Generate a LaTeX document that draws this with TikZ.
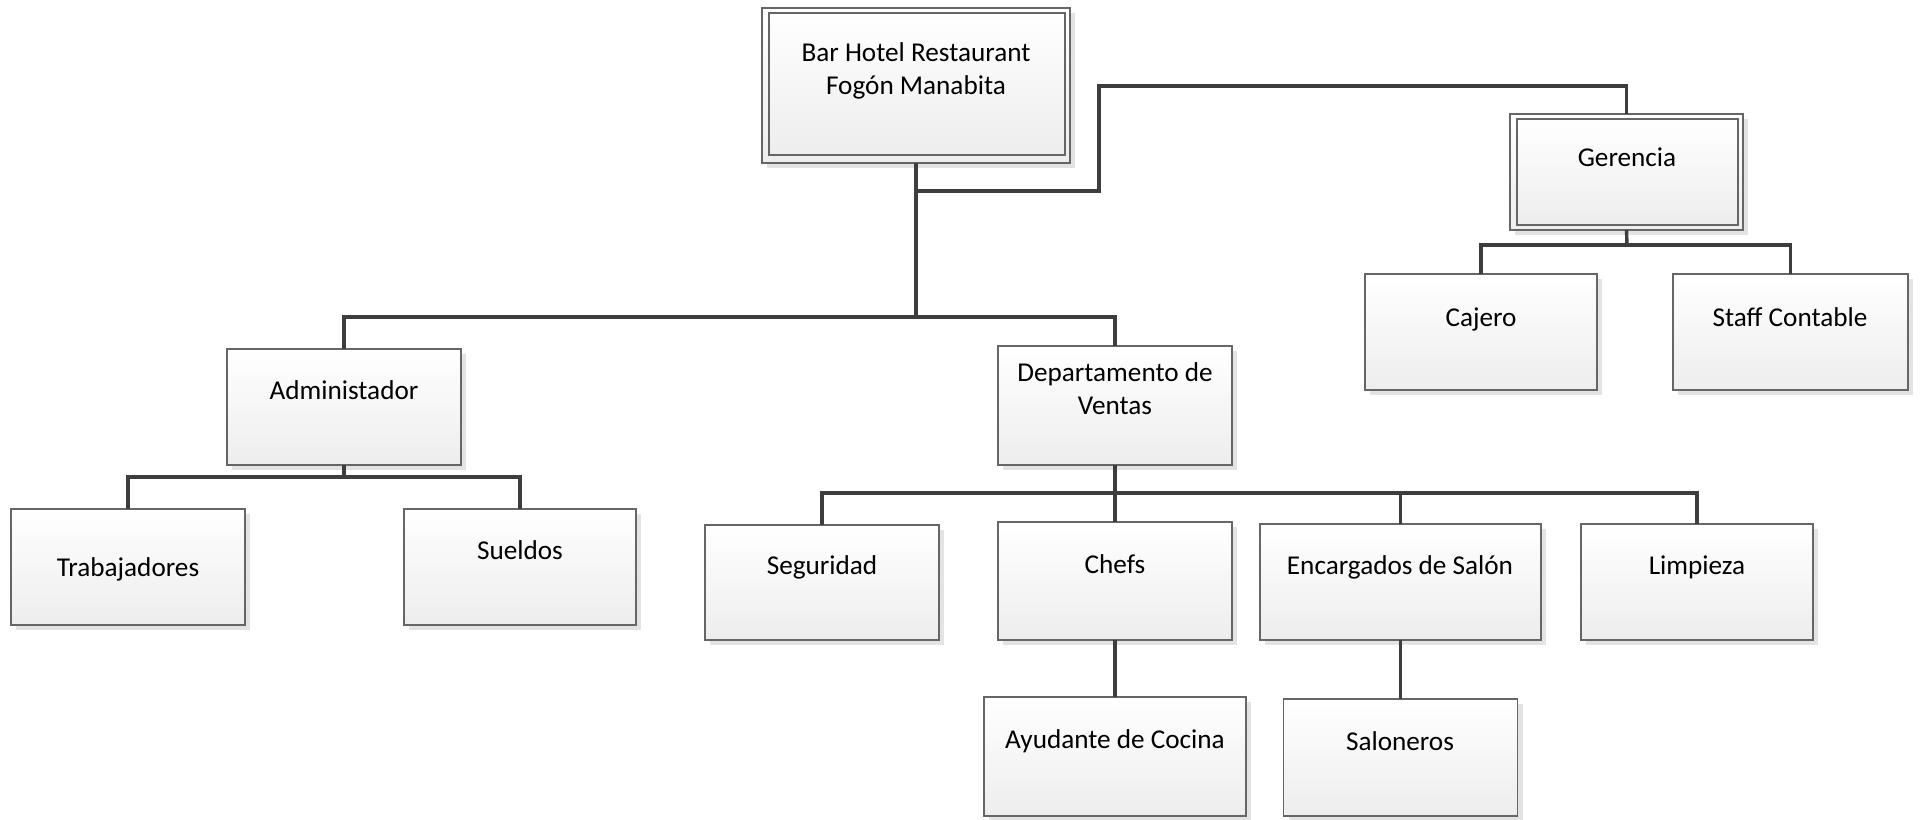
\documentclass[tikz,border=0pt]{standalone}
\usepackage{fontspec}
\setmainfont{Carlito}
\usetikzlibrary{shadows}
\begin{document}
\begin{tikzpicture}[x=1pt,y=-1pt,
  box/.style={draw=black!60, line width=1.1pt, top color=white, bottom color=black!7,
    inner sep=0pt, outer sep=0pt,
    general shadow={fill=black!11, draw=none, shadow xshift=5pt, shadow yshift=-5pt}},
  innerbox/.style={draw=black!60, line width=1.1pt, top color=white, bottom color=black!7,
    inner sep=0pt, outer sep=0pt},
  txt/.style={font=\fontsize{27.2}{33}\selectfont, text=black, anchor=base, align=center, inner sep=0pt},
  conn/.style={draw=black!76, line width=3.4pt, line join=miter}]
\useasboundingbox (0,0) rectangle (1921,819);

% boxes
\node[box, minimum width=308pt, minimum height=155pt] (root) at (916,85.5) {};
\node[innerbox, minimum width=296pt, minimum height=142pt] (rootin) at (917,84) {};
\node[box, minimum width=233pt, minimum height=116pt] (ger) at (1626.5,172) {};
\node[innerbox, minimum width=221pt, minimum height=106pt] (gerin) at (1627.5,172) {};
\node[box, minimum width=232pt, minimum height=116pt] (caj) at (1481,332) {};
\node[box, minimum width=235pt, minimum height=116pt] (staff) at (1790.5,332) {};
\node[box, minimum width=234pt, minimum height=116pt] (admin) at (344,407) {};
\node[box, minimum width=234pt, minimum height=116pt] (trab) at (128,567) {};
\node[box, minimum width=232pt, minimum height=116pt] (suel) at (520,567) {};
\node[box, minimum width=234pt, minimum height=119pt] (dept) at (1115,405.5) {};
\node[box, minimum width=234pt, minimum height=115pt] (seg) at (822,582.5) {};
\node[box, minimum width=234pt, minimum height=118pt] (chefs) at (1115,581) {};
\node[box, minimum width=281pt, minimum height=116pt] (enc) at (1400.5,582) {};
\node[box, minimum width=232pt, minimum height=116pt] (limp) at (1697,582) {};
\node[box, minimum width=262pt, minimum height=119pt] (ayud) at (1115,756.5) {};
\node[box, minimum width=234pt, minimum height=117pt] (salon) at (1400.5,757.5) {};

% texts (base = baseline of the last line)
\node[txt] (troot) at (916,94) {Bar Hotel Restaurant\\Fogón Manabita};
\node[txt] (tger) at (1627,166) {Gerencia};
\node[txt] (tcaj) at (1481,326) {Cajero};
\node[txt] (tstaff) at (1790,326) {Staff Contable};
\node[txt] (tadmin) at (344,399) {Administador};
\node[txt] (ttrab) at (128,576) {Trabajadores};
\node[txt] (tsuel) at (520,559) {Sueldos};
\node[txt] (tdept) at (1115,414) {Departamento de\\Ventas};
\node[txt] (tseg) at (822,574) {Seguridad};
\node[txt] (tchefs) at (1115,573) {Chefs};
\node[txt] (tenc) at (1400,574) {Encargados de Salón};
\node[txt] (tlimp) at (1697,574) {Limpieza};
\node[txt] (tayud) at (1115,748) {Ayudante de Cocina};
\node[txt] (tsalon) at (1400,750) {Saloneros};

% junction points
\coordinate (mb) at (916,317);
\coordinate (j0) at (916,191);
\coordinate (j0r) at (1099,86);
\coordinate (ab) at (344,477);
\coordinate (db) at (1115,493);
\coordinate (gb) at (1627,245);

% connectors
\draw[conn] (root.south) -- (mb);
\draw[conn] (j0) -| (j0r) -| (ger.north);
\draw[conn] (admin.north) |- (mb) -| (dept.north);
\draw[conn] (admin.south) -- (ab);
\draw[conn] (trab.north) |- (ab) -| (suel.north);
\draw[conn] (dept.south) -- (db);
\draw[conn] (seg.north) |- (db) -| (limp.north);
\draw[conn] (db) -- (chefs.north);
\draw[conn] (enc.north) -- (enc.north |- db);
\draw[conn] (chefs.south) -- (ayud.north);
\draw[conn] (enc.south) -- (enc.south |- salon.north);
\draw[conn] (ger.south) -- (gb);
\draw[conn] (caj.north) |- (gb) -| (staff.north);
\end{tikzpicture}
\end{document}
